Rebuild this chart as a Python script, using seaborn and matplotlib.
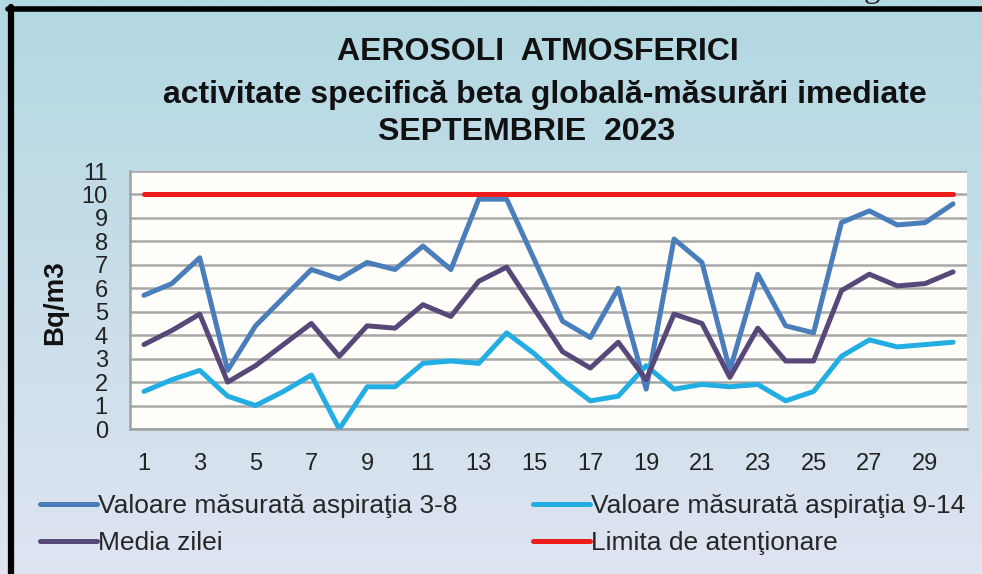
import numpy as np
import pandas as pd
import matplotlib
matplotlib.use("Agg")
import matplotlib.pyplot as plt
import seaborn as sns

# Data
days = list(range(1, 31))
asp_3_8 = [5.7, 6.2, 7.3, 2.5, 4.4, 5.6, 6.8, 6.4, 7.1, 6.8,
           7.8, 6.8, 9.8, 9.8, 7.2, 4.6, 3.9, 6.0, 1.7, 8.1,
           7.1, 2.5, 6.6, 4.4, 4.1, 8.8, 9.3, 8.7, 8.8, 9.6]
asp_9_14 = [1.6, 2.1, 2.5, 1.4, 1.0, 1.6, 2.3, 0.0, 1.8, 1.8,
            2.8, 2.9, 2.8, 4.1, 3.2, 2.1, 1.2, 1.4, 2.7, 1.7,
            1.9, 1.8, 1.9, 1.2, 1.6, 3.1, 3.8, 3.5, 3.6, 3.7]
media = [3.6, 4.2, 4.9, 2.0, 2.7, 3.6, 4.5, 3.1, 4.4, 4.3,
         5.3, 4.8, 6.3, 6.9, 5.1, 3.3, 2.6, 3.7, 2.1, 4.9,
         4.5, 2.2, 4.3, 2.9, 2.9, 5.9, 6.6, 6.1, 6.2, 6.7]
limita = [10] * 30

labels = ["Valoare măsurată aspiraţia 3-8", "Valoare măsurată aspiraţia 9-14",
          "Media zilei", "Limita de atenţionare"]
colors = ["#4a7ebb", "#22ade3", "#58487a", "#ee1c1c"]
yticks = list(range(0, 12))
xtick_labels = [str(d) if d % 2 == 1 else "" for d in days]

df = pd.DataFrame({"zi": days, labels[0]: asp_3_8, labels[1]: asp_9_14,
                   labels[2]: media, labels[3]: limita})

sns.set_theme(style="white")
plt.rcParams["font.family"] = ["Liberation Sans", "DejaVu Sans"]

fig = plt.figure(figsize=(9.82, 5.74), dpi=100)

# gradient background + black frame
bg = fig.add_axes([0, 0, 1, 1], zorder=-5)
top_c = np.array([178, 216, 226]) / 255
bot_c = np.array([223, 228, 241]) / 255
t = np.linspace(0, 1, 256)[:, None]
grad = top_c[None, :] * (1 - t) + bot_c[None, :] * t
bg.imshow(grad[:, None, :], aspect="auto", extent=[0, 1, 0, 1])
bg.plot([8 / 982, 1], [1 - 9 / 574] * 2, color="black", lw=4)
bg.plot([10.5 / 982] * 2, [0, 1 - 7 / 574], color="black", lw=4.5)
bg.set_xlim(0, 1)
bg.set_ylim(0, 1)
bg.axis("off")
fig.text(872 / 982, 1 + 3 / 574, "g", fontsize=24, family="Liberation Serif",
         ha="center", va="baseline")

ax = fig.add_axes([130 / 982, 1 - 429 / 574, 837 / 982, 258 / 574])
ax.set_facecolor("#fffefb")

for lab, col in zip(labels, colors):
    sns.lineplot(data=df, x="zi", y=lab, color=col, lw=3.6, label=lab, ax=ax,
                 solid_capstyle="round", zorder=3)

ax.set_xlim(0.5, 30.5)
ax.set_ylim(0, 11)
ax.set_yticks(yticks)
ax.set_yticklabels([str(v) for v in yticks], fontsize=17,
                   family=["Liberation Sans Narrow", "Liberation Sans"])
ax.set_xticks(days)
ax.set_xticklabels(xtick_labels, fontsize=17)
ax.yaxis.grid(True, color="#a8a8a8", lw=1.8)
ax.set_axisbelow(True)
ax.tick_params(axis="y", length=0, pad=16, colors="#222222")
ax.tick_params(axis="x", direction="inout", length=6, width=1, color="#999999",
               pad=14, labelcolor="#222222")
for s in ["top", "right"]:
    ax.spines[s].set_visible(False)
for s in ["left", "bottom"]:
    ax.spines[s].set_color("#a0a0a0")
    ax.spines[s].set_linewidth(1.8)
ax.set_xlabel("")
ax.set_ylabel("")

fig.text(55 / 982, 1 - 303 / 574, "Bq/m3", rotation=90, fontsize=20,
         fontweight="bold", ha="center", va="center", color="#111111")

# title
fig.text(538 / 982, 1 - 60 / 574, "AEROSOLI  ATMOSFERICI", fontsize=23,
         fontweight="bold", ha="center", va="baseline", color="#111111")
fig.text(545 / 982, 1 - 103 / 574,
         "activitate specifică beta globală-măsurări imediate", fontsize=23,
         fontweight="bold", ha="center", va="baseline", color="#111111")
fig.text(527 / 982, 1 - 140 / 574, "SEPTEMBRIE  2023", fontsize=23,
         fontweight="bold", ha="center", va="baseline", color="#111111")

# legend below the plot, 2 columns
h, l = ax.get_legend_handles_labels()
order = [0, 2, 1, 3]
ax.legend([h[i] for i in order], [l[i] for i in order], ncol=2,
          loc="upper left", bbox_to_anchor=(40 / 982, 1 - 494 / 574),
          bbox_transform=fig.transFigure, frameon=False, fontsize=19,
          handlelength=2.15, handletextpad=0.05, columnspacing=2.85,
          labelspacing=0.49, borderpad=0, borderaxespad=0)

fig.savefig("out.png", dpi=100)
